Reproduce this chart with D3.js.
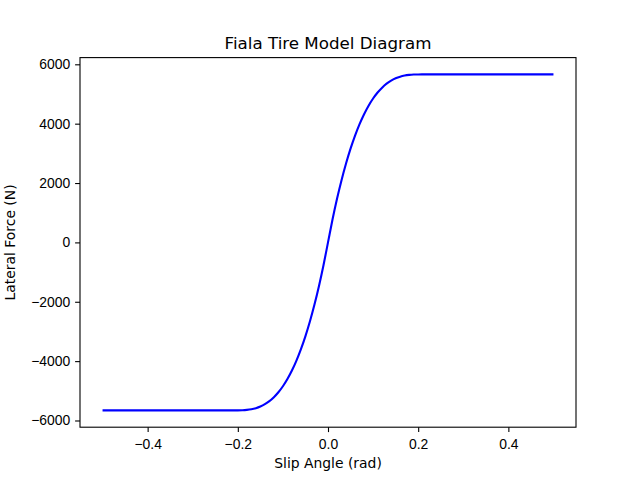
<!DOCTYPE html>
<html>
<head>
<meta charset="utf-8">
<script src="https://cdn.jsdelivr.net/npm/d3@7"></script>
<style>
  html, body { margin: 0; padding: 0; background: #fff; }
  svg { display: block; font-family: "DejaVu Sans", sans-serif; }
  .tick text { font-size: 13.9px; fill: #000; }
  .tick line { stroke: #000; stroke-width: 1.1; }
  .domain { display: none; }
</style>
</head>
<body>
<svg id="chart" width="640" height="480"></svg>
<script>
// slip angle (rad) and lateral force (N)
const slipAngle = [
  -0.50, -0.21, -0.20, -0.19, -0.18, -0.17, -0.16, -0.15, -0.14, -0.13, -0.12, -0.11,
  -0.10, -0.09, -0.08, -0.07, -0.06, -0.05, -0.04, -0.03, -0.02, -0.01,
  0.00,
  0.01, 0.02, 0.03, 0.04, 0.05, 0.06, 0.07, 0.08, 0.09, 0.10,
  0.11, 0.12, 0.13, 0.14, 0.15, 0.16, 0.17, 0.18, 0.19, 0.20, 0.21, 0.50
];
const lateralForce = [
  -5660, -5660, -5659, -5655, -5643, -5621, -5584, -5528, -5450, -5347, -5214, -5049,
  -4847, -4604, -4318, -3983, -3597, -3157, -2657, -2096, -1467, -770,
  0,
  770, 1467, 2096, 2657, 3157, 3597, 3983, 4318, 4604, 4847,
  5049, 5214, 5347, 5450, 5528, 5584, 5621, 5643, 5655, 5659, 5660, 5660
];
const xTicks = [-0.4, -0.2, 0.0, 0.2, 0.4];
const yTicks = [-6000, -4000, -2000, 0, 2000, 4000, 6000];

const W = 640, H = 480;
const m = { left: 80, right: 576, top: 57.6, bottom: 427.2 };
const svg = d3.select('#chart');

const data = slipAngle.map((a, i) => ({ a, f: lateralForce[i] }));

// matplotlib-style 5% margins
const xExt = d3.extent(slipAngle), yExt = d3.extent(lateralForce);
const xPad = (xExt[1] - xExt[0]) * 0.05, yPad = (yExt[1] - yExt[0]) * 0.05;
const x = d3.scaleLinear().domain([xExt[0] - xPad, xExt[1] + xPad]).range([m.left, m.right]);
const y = d3.scaleLinear().domain([yExt[0] - yPad, yExt[1] + yPad]).range([m.bottom, m.top]);

const fmtMinus = s => s.replace('-', '\u2212');

// axes
svg.append('g')
  .attr('transform', `translate(0,${m.bottom})`)
  .call(d3.axisBottom(x).tickValues(xTicks).tickSize(4.9).tickPadding(4.9)
    .tickFormat(d => fmtMinus(d3.format('.1f')(d))))
  .selectAll('text').attr('dy', '0.85em');

svg.append('g')
  .attr('transform', `translate(${m.left},0)`)
  .call(d3.axisLeft(y).tickValues(yTicks).tickSize(4.9).tickPadding(4.9)
    .tickFormat(d => fmtMinus(String(d))));

// the curve
svg.append('path')
  .datum(data)
  .attr('fill', 'none')
  .attr('stroke', '#0000ff')
  .attr('stroke-width', 2.1)
  .attr('stroke-linejoin', 'round')
  .attr('d', d3.line().x(d => x(d.a)).y(d => y(d.f)).curve(d3.curveMonotoneX));

// frame
svg.append('rect')
  .attr('x', m.left).attr('y', m.top)
  .attr('width', m.right - m.left).attr('height', m.bottom - m.top)
  .attr('fill', 'none').attr('stroke', '#000').attr('stroke-width', 1.1);

// labels
svg.append('text')
  .attr('x', (m.left + m.right) / 2).attr('y', 49)
  .attr('text-anchor', 'middle').attr('font-size', 16.7)
  .text('Fiala Tire Model Diagram');

svg.append('text')
  .attr('x', (m.left + m.right) / 2).attr('y', 468)
  .attr('text-anchor', 'middle').attr('font-size', 13.9)
  .text('Slip Angle (rad)');

svg.append('text')
  .attr('transform', `translate(15,${(m.top + m.bottom) / 2}) rotate(-90)`)
  .attr('text-anchor', 'middle').attr('font-size', 13.9)
  .text('Lateral Force (N)');
</script>
</body>
</html>
